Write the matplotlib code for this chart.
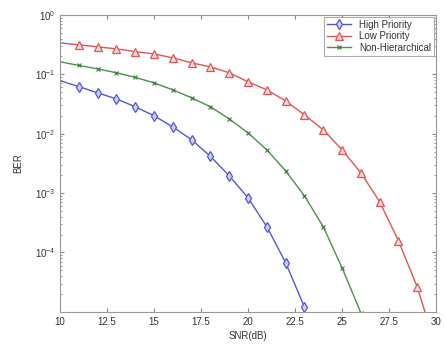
import numpy as np
import matplotlib
matplotlib.use("Agg")
import matplotlib.pyplot as plt
from matplotlib.ticker import LogLocator, NullFormatter

# SNR (dB) grid
snr_high = [10, 11, 12, 13, 14, 15, 16, 17, 18, 19, 20, 21, 22, 23]
snr_low = [10, 11, 12, 13, 14, 15, 16, 17, 18, 19, 20, 21, 22, 23, 24, 25, 26, 27, 28, 29, 30]
snr_non = [10, 11, 12, 13, 14, 15, 16, 17, 18, 19, 20, 21, 22, 23, 24, 25, 26]

ber_high = [0.078, 0.062, 0.0486, 0.0385, 0.0283, 0.0200, 0.0130, 0.00787,
            0.00415, 0.00195, 8.3e-4, 2.7e-4, 6.7e-5, 1.2e-5]
ber_low = [0.338, 0.313, 0.289, 0.268, 0.240, 0.220, 0.189, 0.156, 0.133, 0.106,
           0.0745, 0.0546, 0.0356, 0.0207, 0.0116, 0.00533, 0.00219, 7.1e-4,
           1.57e-4, 2.6e-5, 2.5e-6]
ber_non = [0.162, 0.141, 0.123, 0.106, 0.0887, 0.0716, 0.0546, 0.0401, 0.0283,
           0.0177, 0.0103, 0.00533, 0.00236, 8.97e-4, 2.7e-4, 5.5e-5, 9.6e-6]

labels = ["High Priority", "Low Priority", "Non-Hierarchical"]
xticks = [10, 12.5, 15, 17.5, 20, 22.5, 25, 27.5, 30]
yticks = [1e-4, 1e-3, 1e-2, 1e-1, 1e0]

plt.rcParams['font.family'] = ['Liberation Sans', 'DejaVu Sans']
txt = '#333333'

fig = plt.figure(figsize=(4.45, 3.54), dpi=100)
ax = fig.add_axes([0.135, 0.119, 0.845, 0.839])

ax.semilogy(snr_high, ber_high, color='#5555dd', lw=1.0, marker='d', ms=5.5,
            mfc='#d0d0f6', mec='#5555dd', mew=0.9, markevery=slice(1, None),
            label=labels[0])
ax.semilogy(snr_low, ber_low, color='#e05555', lw=1.0, marker='^', ms=5.5,
            mfc='#f8d6d6', mec='#e05555', mew=0.9, markevery=slice(1, 20),
            label=labels[1])
ax.semilogy(snr_non, ber_non, color='#4a924a', lw=1.0, marker='x', ms=3,
            mec='#3a7a3a', mew=0.8, markevery=slice(1, None),
            label=labels[2])

ax.set_xlim(10, 30)
ax.set_ylim(1e-5, 1e0)
ax.set_xticks(xticks)
ax.set_xticklabels([f"{t:g}" for t in xticks])
ax.set_yticks(yticks)
ax.yaxis.set_minor_locator(LogLocator(base=10, subs=np.arange(2, 10)))
ax.yaxis.set_minor_formatter(NullFormatter())
ax.tick_params(which='both', direction='in', top=True, right=True,
               colors='#888888', labelcolor=txt, labelsize=7)
ax.tick_params(which='major', length=3)
ax.tick_params(which='minor', length=1.5)
for s in ax.spines.values():
    s.set_color('#999999')
    s.set_linewidth(0.8)

ax.set_xlabel("SNR(dB)", fontsize=7, color=txt, labelpad=3)
ax.set_ylabel("BER", fontsize=7, color=txt, labelpad=8)

leg = ax.legend(loc='upper right', fontsize=7, frameon=True, fancybox=False,
                borderpad=0.3, labelspacing=0.15, handlelength=2.5,
                borderaxespad=0.2)
leg.get_frame().set_edgecolor('#999999')
leg.get_frame().set_linewidth(0.8)
for t in leg.get_texts():
    t.set_color(txt)

fig.savefig("out.png", dpi=100)
